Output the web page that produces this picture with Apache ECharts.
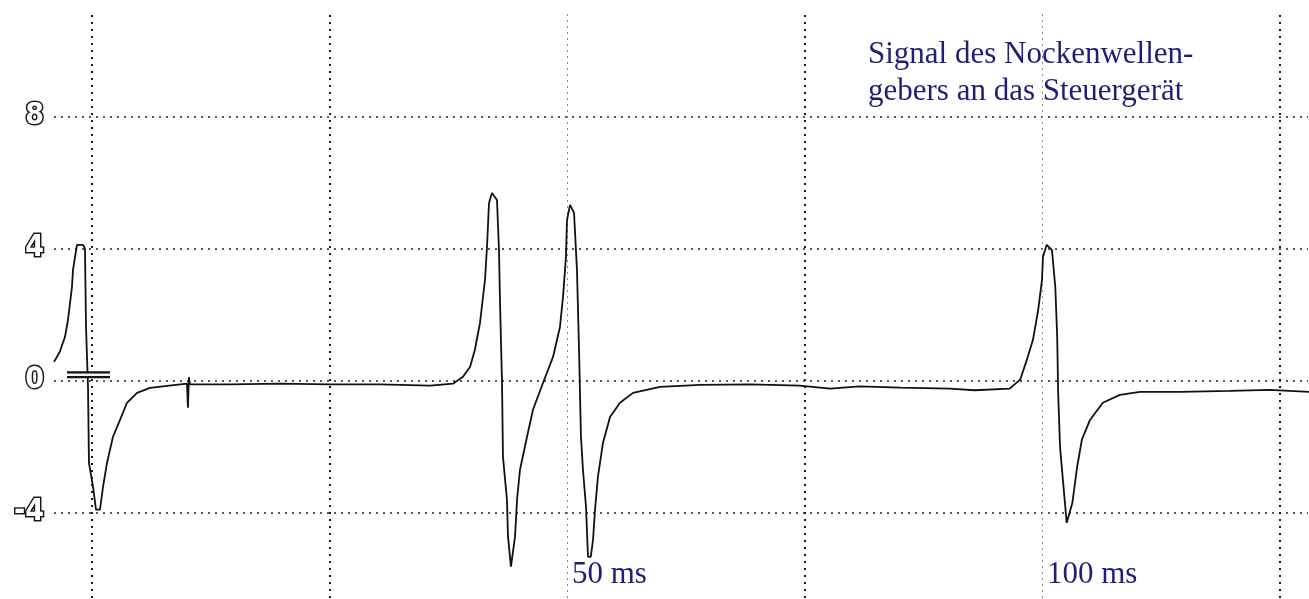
<!DOCTYPE html>
<html>
<head>
<meta charset="utf-8">
<title>Signal des Nockenwellengebers</title>
<script src="https://cdn.jsdelivr.net/npm/echarts@6/dist/echarts.min.js"></script>
<style>
  html, body { margin: 0; padding: 0; background: #ffffff; }
  #chart { width: 1309px; height: 599px; }
</style>
</head>
<body>
<div id="chart"></div>
<script>
// Camshaft sensor trace: time in ms, voltage in V
const timeMs = [
  -4.0, -3.4, -2.84, -2.53, -2.11, -2.0, -1.58, -0.95, -0.74, -0.63, -0.42, -0.32,
  0.11, 0.42, 0.63, 0.84, 1.16, 1.58, 2.21, 2.95, 3.68, 4.74, 6.1, 7.9,
  10.0, 10.1, 10.2, 10.3, 14.5, 19.8, 25.05, 30.3, 35.6, 38.0,
  39.05, 39.8, 40.3, 40.84, 41.37, 41.58, 41.79, 42.1, 42.63, 42.84, 42.95, 43.16,
  43.26, 43.68, 43.79, 44.1, 44.53, 44.74, 45.05, 45.79, 46.42, 47.47, 48.53, 49.26,
  49.58, 49.89, 50.0, 50.32, 50.74, 51.05, 51.26, 51.47, 51.68, 52.0, 52.21, 52.5,
  52.74, 52.95, 53.26, 53.79, 54.53, 55.58, 56.95, 59.8, 64.0, 69.3, 74.5, 77.7,
  80.8, 85.05, 90.3, 92.9, 96.6,
  97.7, 98.4, 99.05, 99.6, 100.0, 100.1, 100.5, 101.05, 101.4, 101.6, 101.7, 101.9,
  102.2, 102.6, 103.2, 103.7, 104.2, 105.05, 106.4, 108.2, 110.3, 114.5, 119.8, 124.0, 128.1
];
const voltage = [
  0.56, 0.86, 1.32, 1.83, 2.83, 3.35, 4.11, 4.11, 4.0, 1.62, -0.2, -2.5,
  -3.23, -3.92, -3.98, -3.92, -3.23, -2.5, -1.71, -1.2, -0.68, -0.38, -0.23, -0.17,
  -0.1, -0.83, 0.1, -0.12, -0.12, -0.1, -0.12, -0.12, -0.16, -0.1,
  0.11, 0.41, 0.92, 1.74, 3.05, 4.05, 5.38, 5.68, 5.47, 3.95, 2.35, -0.08,
  -2.32, -3.62, -4.74, -5.65, -4.74, -3.62, -2.71, -1.71, -0.89, -0.08, 0.71, 1.62,
  2.53, 3.74, 4.86, 5.32, 5.08, 3.35, 1.01, -1.71, -2.71, -3.83, -5.35, -5.35,
  -4.83, -3.92, -2.92, -1.89, -1.11, -0.68, -0.38, -0.2, -0.14, -0.12, -0.16, -0.25,
  -0.18, -0.22, -0.25, -0.3, -0.25,
  0.02, 0.62, 1.23, 2.14, 3.05, 3.74, 4.11, 3.95, 2.83, 1.32, -0.38, -2.02,
  -3.02, -4.32, -3.71, -2.62, -1.8, -1.2, -0.68, -0.44, -0.35, -0.35, -0.32, -0.29, -0.35
];

// Zero-level marker of the channel
const markerTime = [-2.63, 1.9];
const markerVolt = [0.17, 0.17];

// Screen divisions and labels
const voltTicks = [8, 4, 0, -4];
const timeDivs = [0, 25, 50, 75, 100, 125];
const timeLabels = [50, 100];
const titleLines = ['Signal des Nockenwellen-', 'gebers an das Steuergerät'];

const traceData = timeMs.map((t, i) => [t, voltage[i]]);
const markerData = markerTime.map((t, i) => [t, markerVolt[i]]);

const navy = '#1e1e78';
const heavyDiv = { color: '#1a1a1a', width: 2, type: [2, 5] };
const lightDiv = { color: '#8a8a8a', width: 1, type: [2, 4] };
const divStyles = [heavyDiv, heavyDiv, lightDiv, heavyDiv, lightDiv, heavyDiv];

const chart = echarts.init(document.getElementById('chart'), null, { renderer: 'canvas' });

chart.setOption({
  backgroundColor: '#ffffff',
  animation: false,
  grid: { left: 54, right: 1, top: 11, bottom: 1, containLabel: false },
  xAxis: {
    type: 'value',
    min: -4,
    max: 128,
    axisLine: { show: false },
    axisTick: { show: false },
    splitLine: { show: false },
    axisLabel: {
      show: true,
      inside: true,
      customValues: timeLabels,
      formatter: v => v + ' ms',
      align: 'left',
      verticalAlign: 'bottom',
      margin: 8,
      padding: [0, 0, 0, 5],
      color: navy,
      fontFamily: '"Liberation Serif", "DejaVu Serif", serif',
      fontSize: 31
    }
  },
  yAxis: {
    type: 'value',
    min: -6.6,
    max: 11.2,
    axisLine: { show: false },
    axisTick: { show: false },
    splitLine: { show: false },
    axisLabel: {
      show: true,
      customValues: voltTicks,
      margin: 10,
      color: '#ffffff',
      textBorderColor: '#1a1a1a',
      textBorderWidth: 3,
      fontFamily: '"Liberation Sans Narrow", "DejaVu Sans Condensed", sans-serif',
      fontWeight: 'bold',
      fontSize: 30
    }
  },
  graphic: [{
    type: 'text',
    left: 868,
    top: 36,
    style: {
      text: titleLines.join('\n'),
      fill: navy,
      font: '31px "Liberation Serif", "DejaVu Serif", serif',
      lineHeight: 37
    }
  }],
  series: [
    {
      type: 'line',
      data: traceData,
      symbol: 'none',
      silent: true,
      z: 5,
      lineStyle: { color: '#111111', width: 1.8 },
      markLine: {
        silent: true,
        symbol: 'none',
        label: { show: false },
        data: [
          ...voltTicks.map(v => ({
            yAxis: v,
            lineStyle: { color: '#222222', width: 1.5, type: [2, 5] }
          })),
          ...timeDivs.map((t, i) => ({ xAxis: t, lineStyle: divStyles[i] }))
        ]
      }
    },
    {
      type: 'line',
      data: markerData,
      symbol: 'none',
      silent: true,
      z: 6,
      lineStyle: { color: '#111111', width: 7 }
    },
    {
      type: 'line',
      data: markerData,
      symbol: 'none',
      silent: true,
      z: 7,
      lineStyle: { color: '#f4f4f4', width: 2.5 }
    }
  ]
});
</script>
</body>
</html>
